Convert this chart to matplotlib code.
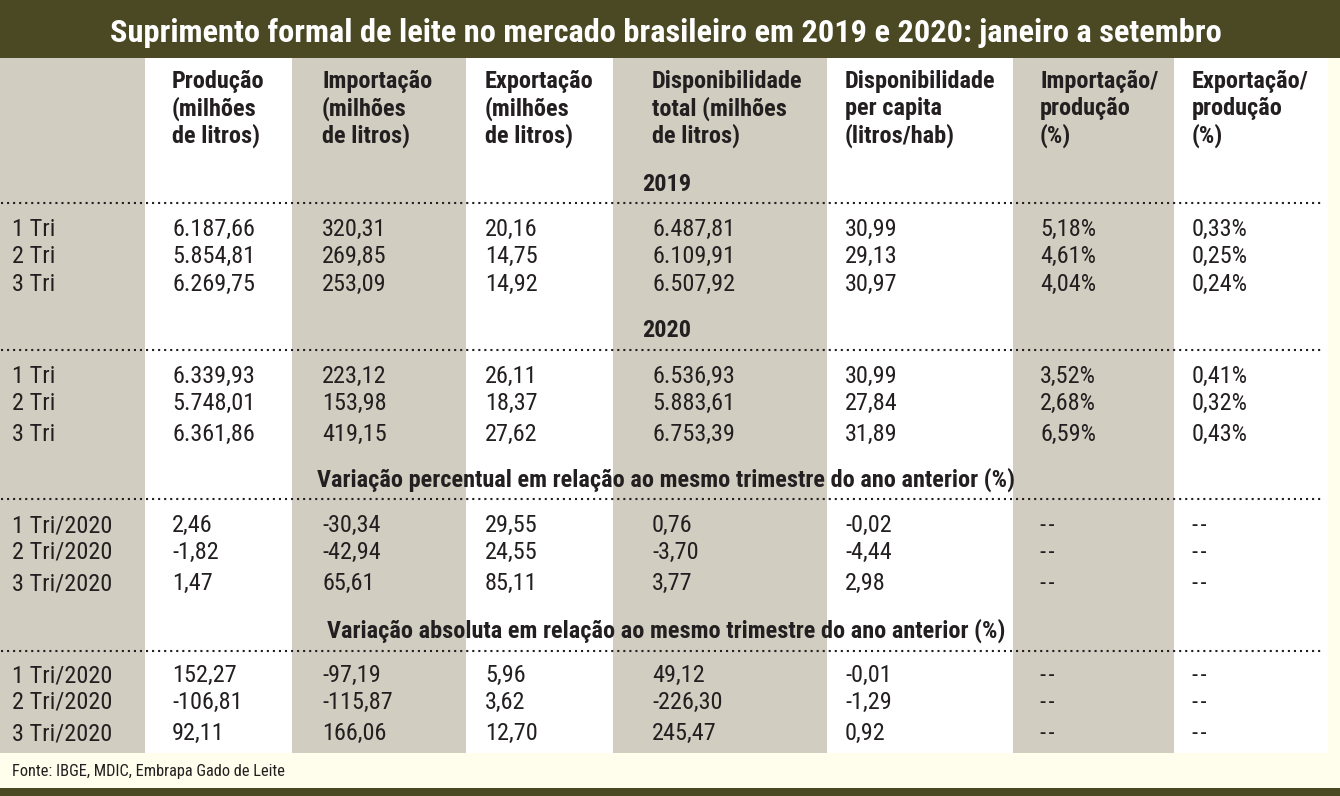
import matplotlib
matplotlib.use('Agg')
import matplotlib.pyplot as plt
from matplotlib import font_manager
from matplotlib.patches import Rectangle

# ---------------------------------------------------------------
# Data (values read from the reference table)
title = 'Suprimento formal de leite no mercado brasileiro em 2019 e 2020: janeiro a setembro'
footer = 'Fonte: IBGE, MDIC, Embrapa Gado de Leite'

headers = [
    ['Produção', '(milhões', 'de litros)'],
    ['Importação', '(milhões', 'de litros)'],
    ['Exportação', '(milhões', 'de litros)'],
    ['Disponibilidade', 'total (milhões', 'de litros)'],
    ['Disponibilidade', 'per capita', '(litros/hab)'],
    ['Importação/', 'produção', '(%)'],
    ['Exportação/', 'produção', '(%)'],
]

labels_year = ['1 Tri', '2 Tri', '3 Tri']
labels_var = ['1 Tri/2020', '2 Tri/2020', '3 Tri/2020']

producao_2019 = [6187.66, 5854.81, 6269.75]
importacao_2019 = [320.31, 269.85, 253.09]
exportacao_2019 = [20.16, 14.75, 14.92]
disp_total_2019 = [6487.81, 6109.91, 6507.92]
per_capita_2019 = [30.99, 29.13, 30.97]
imp_prod_2019 = [5.18, 4.61, 4.04]
exp_prod_2019 = [0.33, 0.25, 0.24]

producao_2020 = [6339.93, 5748.01, 6361.86]
importacao_2020 = [223.12, 153.98, 419.15]
exportacao_2020 = [26.11, 18.37, 27.62]
disp_total_2020 = [6536.93, 5883.61, 6753.39]
per_capita_2020 = [30.99, 27.84, 31.89]
imp_prod_2020 = [3.52, 2.68, 6.59]
exp_prod_2020 = [0.41, 0.32, 0.43]

var_pct_producao = [2.46, -1.82, 1.47]
var_pct_importacao = [-30.34, -42.94, 65.61]
var_pct_exportacao = [29.55, 24.55, 85.11]
var_pct_disp_total = [0.76, -3.70, 3.77]
var_pct_per_capita = [-0.02, -4.44, 2.98]

var_abs_producao = [152.27, -106.81, 92.11]
var_abs_importacao = [-97.19, -115.87, 166.06]
var_abs_exportacao = [5.96, 3.62, 12.70]
var_abs_disp_total = [49.12, -226.30, 245.47]
var_abs_per_capita = [-0.01, -1.29, 0.92]

section_2019 = '2019'
section_2020 = '2020'
section_var_pct = 'Variação percentual em relação ao mesmo trimestre do ano anterior (%)'
section_var_abs = 'Variação absoluta em relação ao mesmo trimestre do ano anterior (%)'
missing = '-\u200a-'
# ---------------------------------------------------------------


def br(v, pct=False):
    # brazilian number format: 6.187,66
    s = f'{v:,.2f}'.replace(',', '#').replace('.', ',').replace('#', '.')
    return s + '%' if pct else s


def fmt_rows(cols, pct_cols=()):
    out = []
    for i in range(3):
        row = []
        for j, c in enumerate(cols):
            if c is None:
                row.append(missing)
            else:
                row.append(br(c[i], j in pct_cols))
        out.append(row)
    return out


# pick a condensed face if one is installed
fonts = font_manager.fontManager.ttflist
names = {f.name for f in fonts}
if 'Roboto Condensed' in names:
    FONT = dict(family='Roboto Condensed')
elif 'Liberation Sans Narrow' in names:
    FONT = dict(family='Liberation Sans Narrow')
elif any(f.name == 'DejaVu Sans' and f.stretch == 'condensed' for f in fonts):
    FONT = dict(family='DejaVu Sans', fontstretch='condensed')
else:
    FONT = dict(family='Roboto')

OLIVE = '#4a4923'
GREY = '#d1cdc1'
CREAM = '#fffdeb'
INK = '#231f20'

fig = plt.figure(figsize=(13.4, 7.96), dpi=100)
fig.patch.set_facecolor(CREAM)
ax = fig.add_axes([0, 0, 1, 1])
ax.set_xlim(0, 1340)
ax.set_ylim(796, 0)
ax.axis('off')
renderer = fig.canvas.get_renderer()


def width_of(s, size, weight):
    t = ax.text(0, 0, s, fontsize=size, fontweight=weight, **FONT)
    w = t.get_window_extent(renderer).width
    t.remove()
    return w


def fit(s, base, weight, target):
    return min(base, base * target / width_of(s, base, weight))


title_size = fit(title, 26, 'bold', 1112)
head_size = fit('Disponibilidade', 17.5, 'bold', 152)
data_size = fit('6.187,66', 17.5, 'normal', 86)
foot_size = fit(footer, 13, 'normal', 273)

# layout
col_edges = [0, 145, 292, 466, 613, 827, 1013, 1174, 1328]
col_x = [12, 172, 322, 485, 652, 845, 1040, 1192]
table_top, table_bottom = 58, 753

# title bar and bottom bar
ax.add_patch(Rectangle((0, 0), 1340, table_top, color=OLIVE, lw=0))
ax.add_patch(Rectangle((0, 788), 1340, 8, color=OLIVE, lw=0))

# column bands
for k in range(len(col_edges) - 1):
    ax.add_patch(Rectangle((col_edges[k], table_top), col_edges[k + 1] - col_edges[k],
                           table_bottom - table_top,
                           color=GREY if k % 2 == 0 else 'white', lw=0))

ax.text(666, 42, title, ha='center', va='baseline', color='white',
        fontsize=title_size, fontweight='bold', **FONT)

# column headers
for j, lines in enumerate(headers):
    for k, line in enumerate(lines):
        ax.text(col_x[j + 1], 88 + k * 27.5, line, ha='left', va='baseline',
                color=INK, fontsize=head_size, fontweight='bold', **FONT)

groups = [
    (section_2019, 642, 'left', 191, 203, [236, 263, 291], labels_year,
     fmt_rows([producao_2019, importacao_2019, exportacao_2019, disp_total_2019,
               per_capita_2019, imp_prod_2019, exp_prod_2019], pct_cols=(5, 6))),
    (section_2020, 642, 'left', 337, 350, [383, 410, 441], labels_year,
     fmt_rows([producao_2020, importacao_2020, exportacao_2020, disp_total_2020,
               per_capita_2020, imp_prod_2020, exp_prod_2020], pct_cols=(5, 6))),
    (section_var_pct, 666, 'center', 487, 499, [532, 559, 590], labels_var,
     fmt_rows([var_pct_producao, var_pct_importacao, var_pct_exportacao,
               var_pct_disp_total, var_pct_per_capita, None, None])),
    (section_var_abs, 666, 'center', 638, 651, [682, 709, 740], labels_var,
     fmt_rows([var_abs_producao, var_abs_importacao, var_abs_exportacao,
               var_abs_disp_total, var_abs_per_capita, None, None])),
]

for name, sx, sha, sy, line_y, row_y, row_labels, rows in groups:
    ax.text(sx, sy, name, ha=sha, va='baseline', color=INK,
            fontsize=head_size, fontweight='bold', **FONT)
    ax.plot([1, 1322], [line_y, line_y], color=INK, lw=1.5,
            linestyle=(0, (1, 1.9)), dash_capstyle='butt')
    for i, y in enumerate(row_y):
        ax.text(col_x[0], y, row_labels[i], ha='left', va='baseline',
                color=INK, fontsize=data_size, **FONT)
        for j, val in enumerate(rows[i]):
            ax.text(col_x[j + 1], y, val, ha='left', va='baseline',
                    color=INK, fontsize=data_size, **FONT)

ax.text(12, 776, footer, ha='left', va='baseline', color=INK,
        fontsize=foot_size, **FONT)

fig.savefig('out.png', dpi=100, facecolor=CREAM)
